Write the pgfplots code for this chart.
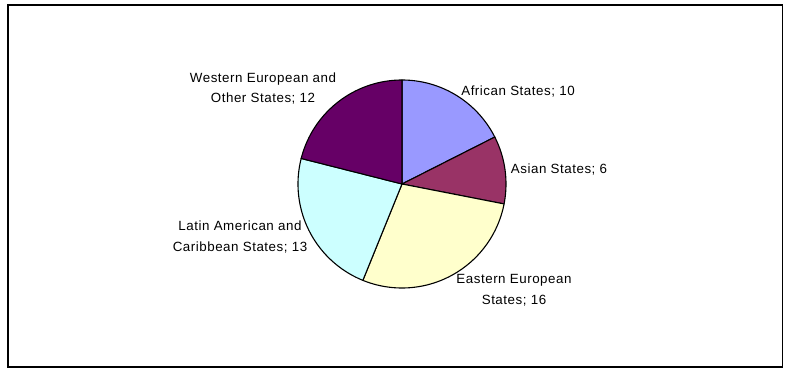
\documentclass[border=0pt]{standalone}
\usepackage{pgfplots}
\pgfplotsset{compat=1.18}
\usepackage{pgfplotstable}
\usepackage{fontspec}
\setmainfont{Liberation Sans}[LetterSpace=4]

\definecolor{cA}{HTML}{9999FF}
\definecolor{cB}{HTML}{993366}
\definecolor{cC}{HTML}{FFFFCC}
\definecolor{cD}{HTML}{CCFFFF}
\definecolor{cE}{HTML}{660066}

\pgfplotstableread{
name value
African 10
Asian 6
Eastern 16
Latin 13
Western 12
}\piedata

\pgfplotstablegetelem{0}{value}\of\piedata \let\vA\pgfplotsretval
\pgfplotstablegetelem{1}{value}\of\piedata \let\vB\pgfplotsretval
\pgfplotstablegetelem{2}{value}\of\piedata \let\vC\pgfplotsretval
\pgfplotstablegetelem{3}{value}\of\piedata \let\vD\pgfplotsretval
\pgfplotstablegetelem{4}{value}\of\piedata \let\vE\pgfplotsretval
\pgfmathsetmacro\total{\vA+\vB+\vC+\vD+\vE}
\pgfmathsetmacro\tA{90-360*\vA/\total}
\pgfmathsetmacro\tB{\tA-360*\vB/\total}
\pgfmathsetmacro\tC{\tB-360*\vC/\total}
\pgfmathsetmacro\tD{\tC-360*\vD/\total}
\pgfmathsetmacro\tE{\tD-360*\vE/\total}

\begin{document}
\begin{tikzpicture}
\begin{axis}[
  xmin=0, xmax=790, ymin=0, ymax=372,
  width=790bp, height=372bp, scale only axis,
  hide axis, clip=false,
  samples=90, variable=\t,
  every axis plot/.append style={draw=black, line width=1.1pt, line join=round},
]
\path (axis cs:0,0) (axis cs:790,372);
\draw[black, line width=1.6pt] (axis cs:8,5) rectangle (axis cs:782.5,367);

\addplot[fill=cA, domain=\tA:90] ({402+104*cos(\t)},{188+104*sin(\t)}) -- (axis cs:402,188) -- cycle;
\addplot[fill=cB, domain=\tB:\tA] ({402+104*cos(\t)},{188+104*sin(\t)}) -- (axis cs:402,188) -- cycle;
\addplot[fill=cC, domain=\tC:\tB] ({402+104*cos(\t)},{188+104*sin(\t)}) -- (axis cs:402,188) -- cycle;
\addplot[fill=cD, domain=\tD:\tC] ({402+104*cos(\t)},{188+104*sin(\t)}) -- (axis cs:402,188) -- cycle;
\addplot[fill=cE, domain=\tE:\tD] ({402+104*cos(\t)},{188+104*sin(\t)}) -- (axis cs:402,188) -- cycle;

\begin{scope}[every node/.style={inner sep=0pt, align=center, font=\fontsize{13.4}{21}\selectfont, text=black}]
\node at (axis cs:263,283.5) {Western European and\\Other States; 12};
\node at (axis cs:518,280) {African States; 10};
\node at (axis cs:559,202) {Asian States; 6};
\node at (axis cs:240,135) {Latin American and\\Caribbean States; 13};
\node at (axis cs:514,82) {Eastern European\\States; 16};
\end{scope}
\end{axis}
\end{tikzpicture}
\end{document}
